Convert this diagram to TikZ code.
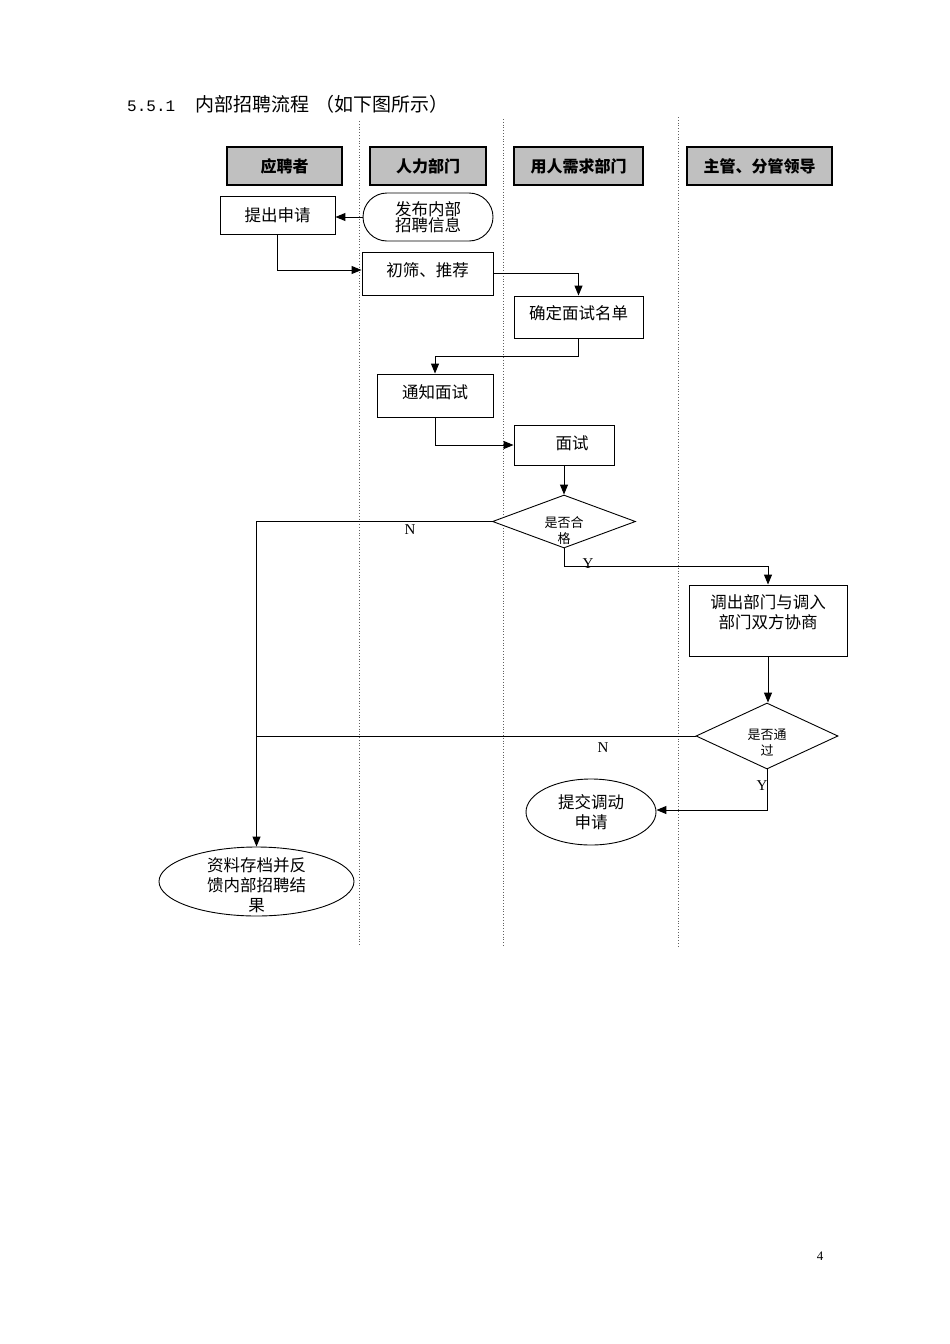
\documentclass[tikz,border=0pt]{standalone}
\usepackage{fontspec}
\setmainfont{Liberation Serif}
\setmonofont{Liberation Mono}
\newfontfamily\cjk{Noto Sans CJK SC}
\usetikzlibrary{arrows.meta,shapes.geometric}
\definecolor{lane}{HTML}{606060}
\definecolor{head}{HTML}{C0C0C0}
\tikzset{
  txt/.style={font=\cjk\fontsize{16.5}{20}\selectfont, align=center},
  proc/.style={txt, draw, line width=0.9pt, fill=white, inner sep=0pt},
  term/.style={proc, rounded corners=24pt},
  oval/.style={proc, ellipse, inner xsep=0pt, inner ysep=-6pt},
  decide/.style={proc, diamond},
  dtext/.style={font=\cjk\fontsize{13}{16}\selectfont, align=center, inner sep=0pt},
  headbox/.style={draw, line width=1.3pt, fill=head, inner sep=0pt, minimum height=38pt,
    font=\cjk\bfseries\fontsize{16}{20}\selectfont},
  yn/.style={font=\fontsize{15}{15}\selectfont, inner sep=0pt},
  laneline/.style={draw=lane, dotted, line width=0.8pt},
  flow/.style={line width=1pt, -{Triangle[length=10pt,width=8pt]}},
  link/.style={line width=1pt}
}

\begin{document}
\begin{tikzpicture}[x=1pt,y=-1pt]
\useasboundingbox (0,0) rectangle (950,1344);
% title
\node[anchor=base west, inner sep=0pt] (title) at (127,111)
  {\fontsize{16}{20}\selectfont\ttfamily 5.5.1\hspace{20pt}\cjk\fontsize{19}{20}\selectfont 内部招聘流程\hspace{6pt}（如下图所示）};

% swim lanes
\draw[laneline] (359,121) -- (359,946);
\draw[laneline] (503,119) -- (503,946);
\draw[laneline] (678,117) -- (678,946);

% lane headers
\node[headbox, minimum width=115pt] (yingpin) at (284.5,166) {应聘者};
\node[headbox, minimum width=116pt] (renli) at (428,166) {人力部门};
\node[headbox, minimum width=129pt] (yongren) at (578.5,166) {用人需求部门};
\node[headbox, minimum width=145pt] (zhuguan) at (759.5,166) {主管、分管领导};

% steps
\node[proc, minimum width=115pt, minimum height=38pt] (tichu) at (277.5,215) {提出申请};
\node[term, minimum width=130pt, minimum height=48pt, font=\cjk\fontsize{16.5}{16}\selectfont] (fabu) at (428,217) {发布内部\\招聘信息};
\node[proc, minimum width=131pt, minimum height=43pt,
  label={[txt, inner sep=0pt, yshift=3pt]center:初筛、推荐}] (chushai) at (427.5,273.5) {};
\node[proc, minimum width=129pt, minimum height=42pt,
  label={[txt, inner sep=0pt, yshift=4pt]center:确定面试名单}] (queding) at (578.5,317) {};
\node[proc, minimum width=116pt, minimum height=43pt,
  label={[txt, inner sep=0pt, yshift=3pt]center:通知面试}] (tongzhi) at (435,395.5) {};
\node[proc, minimum width=100pt, minimum height=40pt,
  label={[txt, inner sep=0pt, xshift=8pt, yshift=2pt]center:面试}] (mianshi) at (564,445) {};
\node[decide, minimum width=143pt, minimum height=53pt,
  label={[dtext, yshift=-9pt]center:是否合\\格}] (hege) at (564,521.5) {};
\node[proc, minimum width=158pt, minimum height=71pt,
  label={[txt, inner sep=0pt, yshift=8pt]center:调出部门与调入\\部门双方协商}] (xieshang) at (768,620.5) {};
\node[decide, minimum width=142pt, minimum height=66pt,
  label={[dtext, yshift=-7pt]center:是否通\\过}] (tongguo) at (767,736) {};
\node[oval, minimum width=130pt, minimum height=66pt] (tijiao) at (591,812) {提交调动\\申请};
\node[oval, minimum width=195pt, minimum height=69pt,
  label={[txt, inner sep=0pt, yshift=-4pt]center:资料存档并反\\馈内部招聘结\\果}] (ziliao) at (256.5,881.5) {};
\coordinate (join) at (257,736);

% connectors
\draw[flow] (fabu.west) -- (fabu.west -| tichu.east);
\draw[flow] (tichu.south) |- ([yshift=3.5pt]chushai.west);
\draw[flow] (chushai.east) -| (queding.north);
\draw[flow] (queding.south) -- ++(0,18) -| (tongzhi.north);
\draw[flow] (tongzhi.south) |- (mianshi.west);
\draw[flow] (mianshi.south) -- (hege.north);
\draw[flow] (hege.west) -| (ziliao.north);
\draw[flow] (hege.south) -- ++(0,18) -| (xieshang.north);
\draw[flow] (xieshang.south) -- (xieshang.south |- tongguo.north);
\draw[link] (tongguo.west) -- (join);
\draw[flow] (tongguo.south) |- ([yshift=2pt]tijiao.east);

% branch labels
\node[yn] (n1) at (410,530) {N};
\node[yn] (y1) at (588,564) {Y};
\node[yn] (n2) at (603,748) {N};
\node[yn] (y2) at (762,786) {Y};

% page number
\node[font=\fontsize{13}{13}\selectfont, inner sep=0pt] (page) at (820,1256) {4};
\end{tikzpicture}
\end{document}
